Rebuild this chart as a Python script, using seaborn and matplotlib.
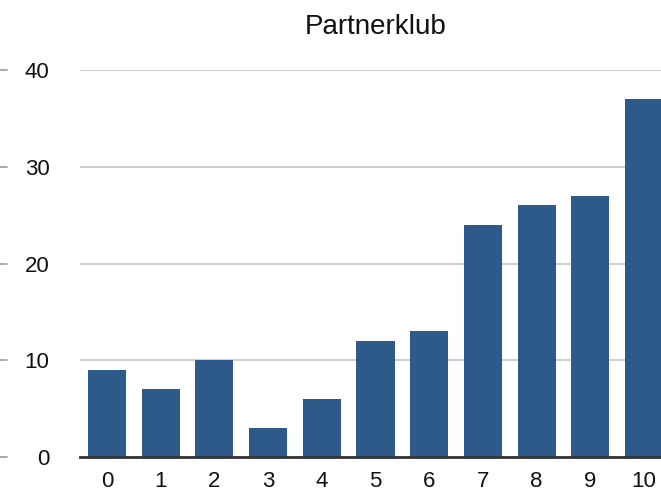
import pandas as pd
import seaborn as sns
import matplotlib.pyplot as plt

# data
categories = ["0", "1", "2", "3", "4", "5", "6", "7", "8", "9", "10"]
counts = [9, 7, 10, 3, 6, 12, 13, 24, 26, 27, 37]
y_ticks = [0, 10, 20, 30, 40]

df = pd.DataFrame({"category": categories, "count": counts})

sns.set_theme(style="white")
plt.rcParams["font.family"] = ["Liberation Sans", "DejaVu Sans"]

fig = plt.figure(figsize=(6.61, 4.95), dpi=100)
# axes run a little past the right edge, like the cropped original
ax = fig.add_axes([80 / 661, 38 / 495, 591 / 661, 387 / 495])

sns.barplot(data=df, x="category", y="count", color="#2e5a8b",
            saturation=1, width=0.71, linewidth=0, ax=ax)

ax.set_ylim(0, 40)
ax.set_xlim(-0.5, 10.5)
ax.set_yticks(y_ticks)
ax.set_ylabel("")
ax.set_xlabel("")
ax.set_title("Partnerklub", fontsize=20, color="#111111", pad=26)

ax.yaxis.grid(True, color="#c4c4c4", linewidth=1.2)
ax.set_axisbelow(True)
for side in ["top", "right", "left"]:
    ax.spines[side].set_visible(False)
ax.spines["bottom"].set_color("#333333")
ax.spines["bottom"].set_linewidth(2)

ax.tick_params(axis="y", length=0, pad=22, labelsize=16, labelcolor="#111111")
ax.tick_params(axis="x", length=0, pad=10, labelsize=16, labelcolor="#111111")

# small stray tick marks at the far left edge of the picture
for v in y_ticks:
    ax.plot([-80 / 591, -73 / 591], [v, v], transform=ax.get_yaxis_transform(),
            color="#999999", linewidth=1.2, clip_on=False)

fig.savefig("out.png", dpi=100)
